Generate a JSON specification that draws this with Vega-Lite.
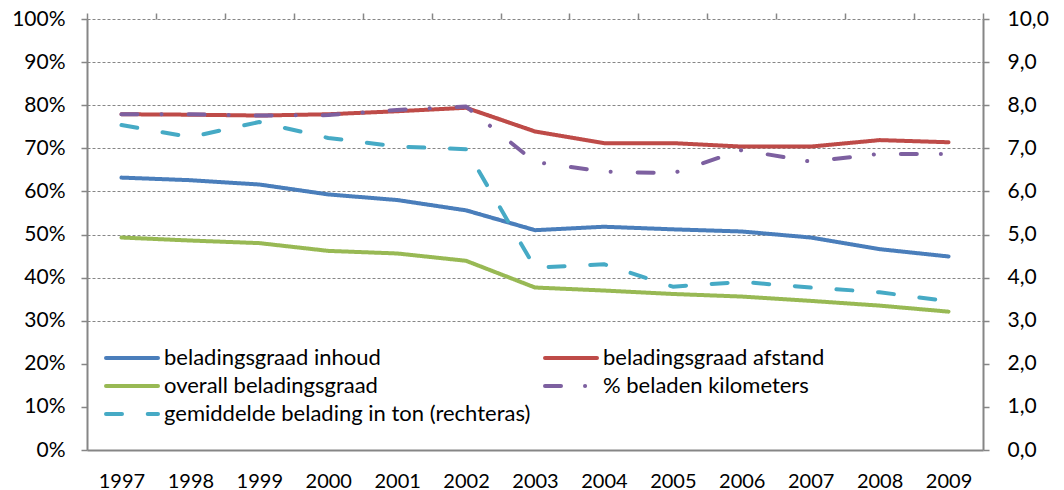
{
  "$schema": "https://vega.github.io/schema/vega-lite/v6.json",
  "width": 896,
  "height": 431,
  "autosize": {"type": "none"},
  "padding": {"left": 87, "top": 19, "right": 81, "bottom": 40},
  "background": "white",
  "config": {
    "font": "Lato",
    "view": {"stroke": null},
    "axis": {
      "labelFont": "Lato",
      "labelFontSize": 21,
      "labelColor": "#000000",
      "domainColor": "#868686",
      "tickColor": "#868686",
      "domainWidth": 2,
      "tickWidth": 1.5
    }
  },
  "datasets": {
    "pct": [
      {"year": 1997, "series": "beladingsgraad inhoud", "value": 0.632},
      {"year": 1998, "series": "beladingsgraad inhoud", "value": 0.626},
      {"year": 1999, "series": "beladingsgraad inhoud", "value": 0.616},
      {"year": 2000, "series": "beladingsgraad inhoud", "value": 0.593},
      {"year": 2001, "series": "beladingsgraad inhoud", "value": 0.580},
      {"year": 2002, "series": "beladingsgraad inhoud", "value": 0.556},
      {"year": 2003, "series": "beladingsgraad inhoud", "value": 0.510},
      {"year": 2004, "series": "beladingsgraad inhoud", "value": 0.518},
      {"year": 2005, "series": "beladingsgraad inhoud", "value": 0.512},
      {"year": 2006, "series": "beladingsgraad inhoud", "value": 0.507},
      {"year": 2007, "series": "beladingsgraad inhoud", "value": 0.493},
      {"year": 2008, "series": "beladingsgraad inhoud", "value": 0.466},
      {"year": 2009, "series": "beladingsgraad inhoud", "value": 0.449},
      {"year": 1997, "series": "beladingsgraad afstand", "value": 0.779},
      {"year": 1998, "series": "beladingsgraad afstand", "value": 0.778},
      {"year": 1999, "series": "beladingsgraad afstand", "value": 0.776},
      {"year": 2000, "series": "beladingsgraad afstand", "value": 0.779},
      {"year": 2001, "series": "beladingsgraad afstand", "value": 0.786},
      {"year": 2002, "series": "beladingsgraad afstand", "value": 0.794},
      {"year": 2003, "series": "beladingsgraad afstand", "value": 0.739},
      {"year": 2004, "series": "beladingsgraad afstand", "value": 0.712},
      {"year": 2005, "series": "beladingsgraad afstand", "value": 0.712},
      {"year": 2006, "series": "beladingsgraad afstand", "value": 0.704},
      {"year": 2007, "series": "beladingsgraad afstand", "value": 0.704},
      {"year": 2008, "series": "beladingsgraad afstand", "value": 0.719},
      {"year": 2009, "series": "beladingsgraad afstand", "value": 0.714},
      {"year": 1997, "series": "overall beladingsgraad", "value": 0.493},
      {"year": 1998, "series": "overall beladingsgraad", "value": 0.486},
      {"year": 1999, "series": "overall beladingsgraad", "value": 0.480},
      {"year": 2000, "series": "overall beladingsgraad", "value": 0.462},
      {"year": 2001, "series": "overall beladingsgraad", "value": 0.456},
      {"year": 2002, "series": "overall beladingsgraad", "value": 0.439},
      {"year": 2003, "series": "overall beladingsgraad", "value": 0.377},
      {"year": 2004, "series": "overall beladingsgraad", "value": 0.370},
      {"year": 2005, "series": "overall beladingsgraad", "value": 0.362},
      {"year": 2006, "series": "overall beladingsgraad", "value": 0.356},
      {"year": 2007, "series": "overall beladingsgraad", "value": 0.346},
      {"year": 2008, "series": "overall beladingsgraad", "value": 0.335},
      {"year": 2009, "series": "overall beladingsgraad", "value": 0.321},
      {"year": 1997, "series": "% beladen kilometers", "value": 0.779},
      {"year": 1998, "series": "% beladen kilometers", "value": 0.779},
      {"year": 1999, "series": "% beladen kilometers", "value": 0.776},
      {"year": 2000, "series": "% beladen kilometers", "value": 0.777},
      {"year": 2001, "series": "% beladen kilometers", "value": 0.789},
      {"year": 2002, "series": "% beladen kilometers", "value": 0.797},
      {"year": 2003, "series": "% beladen kilometers", "value": 0.668},
      {"year": 2004, "series": "% beladen kilometers", "value": 0.646},
      {"year": 2005, "series": "% beladen kilometers", "value": 0.642},
      {"year": 2006, "series": "% beladen kilometers", "value": 0.696},
      {"year": 2007, "series": "% beladen kilometers", "value": 0.669},
      {"year": 2008, "series": "% beladen kilometers", "value": 0.687},
      {"year": 2009, "series": "% beladen kilometers", "value": 0.687}
    ],
    "ton": [
      {"year": 1997, "series": "gemiddelde belading in ton (rechteras)", "value": 7.54},
      {"year": 1998, "series": "gemiddelde belading in ton (rechteras)", "value": 7.26},
      {"year": 1999, "series": "gemiddelde belading in ton (rechteras)", "value": 7.61},
      {"year": 2000, "series": "gemiddelde belading in ton (rechteras)", "value": 7.24},
      {"year": 2001, "series": "gemiddelde belading in ton (rechteras)", "value": 7.04},
      {"year": 2002, "series": "gemiddelde belading in ton (rechteras)", "value": 6.98},
      {"year": 2003, "series": "gemiddelde belading in ton (rechteras)", "value": 4.23},
      {"year": 2004, "series": "gemiddelde belading in ton (rechteras)", "value": 4.31},
      {"year": 2005, "series": "gemiddelde belading in ton (rechteras)", "value": 3.79},
      {"year": 2006, "series": "gemiddelde belading in ton (rechteras)", "value": 3.90},
      {"year": 2007, "series": "gemiddelde belading in ton (rechteras)", "value": 3.77},
      {"year": 2008, "series": "gemiddelde belading in ton (rechteras)", "value": 3.66},
      {"year": 2009, "series": "gemiddelde belading in ton (rechteras)", "value": 3.45}
    ]
  },
  "layer": [
    {
      "data": {"name": "pct"},
      "mark": {"type": "line", "strokeWidth": 4, "strokeCap": "round", "strokeJoin": "round"},
      "encoding": {
        "x": {
          "field": "year", "type": "quantitative",
          "scale": {"domain": [1996.5, 2009.5], "nice": false, "zero": false},
          "axis": {
            "values": [1997, 1998, 1999, 2000, 2001, 2002, 2003, 2004, 2005, 2006, 2007, 2008, 2009],
            "format": "d", "ticks": false, "tickSize": 0, "labelPadding": 21, "labelFontSize": 20,
            "grid": false, "title": null, "labelFlush": false, "labelOverlap": false
          }
        },
        "y": {
          "field": "value", "type": "quantitative",
          "scale": {"domain": [0, 1], "nice": false},
          "axis": {
            "values": [0, 0.1, 0.2, 0.3, 0.4, 0.5, 0.6, 0.7, 0.8, 0.9, 1],
            "format": ".0%", "title": null, "grid": true,
            "gridDash": [3, 2], "gridColor": "#868686", "gridWidth": 1,
            "gridOpacity": {"condition": {"test": "datum.value < 0.25", "value": 0}, "value": 1},
            "tickSize": 6, "labelPadding": 16, "labelFlush": false, "labelOverlap": false
          }
        },
        "color": {
          "field": "series", "type": "nominal",
          "scale": {
            "domain": ["beladingsgraad inhoud", "beladingsgraad afstand", "overall beladingsgraad", "% beladen kilometers", "gemiddelde belading in ton (rechteras)"],
            "range": ["#4A7EBB", "#BE4B48", "#98B954", "#7D60A0", "#46AAC5"]
          },
          "legend": {
            "orient": "none", "legendX": 17, "legendY": 327, "columns": 2, "direction": "horizontal",
            "columnPadding": 6, "rowPadding": 5, "title": null, "padding": 0,
            "labelFont": "Lato", "labelFontSize": 22, "labelColor": "#000000", "labelLimit": 600,
            "labelOffset": 36, "symbolType": "M-1,0H4.2", "symbolSize": 400, "symbolStrokeWidth": 4,
            "encode": {"symbols": {"update": {"strokeCap": {"value": "round"}}}}
          }
        },
        "strokeDash": {
          "field": "series", "type": "nominal",
          "scale": {
            "domain": ["beladingsgraad inhoud", "beladingsgraad afstand", "overall beladingsgraad", "% beladen kilometers", "gemiddelde belading in ton (rechteras)"],
            "range": [[1, 0], [1, 0], [1, 0], [16, 24, 0.1, 27], [16, 25.7]]
          },
          "legend": {
            "orient": "none", "legendX": 17, "legendY": 327, "columns": 2, "direction": "horizontal",
            "columnPadding": 6, "rowPadding": 5, "title": null, "padding": 0,
            "labelFont": "Lato", "labelFontSize": 22, "labelColor": "#000000", "labelLimit": 600,
            "labelOffset": 36, "symbolType": "M-1,0H4.2", "symbolSize": 400, "symbolStrokeWidth": 4,
            "encode": {"symbols": {"update": {"strokeCap": {"value": "round"}}}}
          }
        }
      }
    },
    {
      "data": {"name": "ton"},
      "mark": {"type": "line", "strokeWidth": 4, "strokeCap": "round", "strokeJoin": "round"},
      "encoding": {
        "x": {
          "field": "year", "type": "quantitative",
          "scale": {"domain": [1996.5, 2009.5], "nice": false, "zero": false},
          "axis": {
            "values": [1996.5, 1997.5, 1998.5, 1999.5, 2000.5, 2001.5, 2002.5, 2003.5, 2004.5, 2005.5, 2006.5, 2007.5, 2008.5, 2009.5],
            "labels": false, "domain": false, "ticks": true, "tickSize": 6,
            "grid": false, "title": null
          }
        },
        "y": {
          "field": "value", "type": "quantitative",
          "scale": {"domain": [0, 10], "nice": false},
          "axis": {
            "orient": "right",
            "values": [0, 1, 2, 3, 4, 5, 6, 7, 8, 9, 10],
            "labelExpr": "replace(format(datum.value, '.1f'), '.', ',')",
            "title": null, "grid": false, "tickSize": 6, "labelPadding": 18,
            "labelFlush": false, "labelOverlap": false
          }
        },
        "color": {"field": "series", "type": "nominal"},
        "strokeDash": {"field": "series", "type": "nominal"}
      }
    }
  ],
  "resolve": {"scale": {"y": "independent"}, "axis": {"x": "independent"}}
}
